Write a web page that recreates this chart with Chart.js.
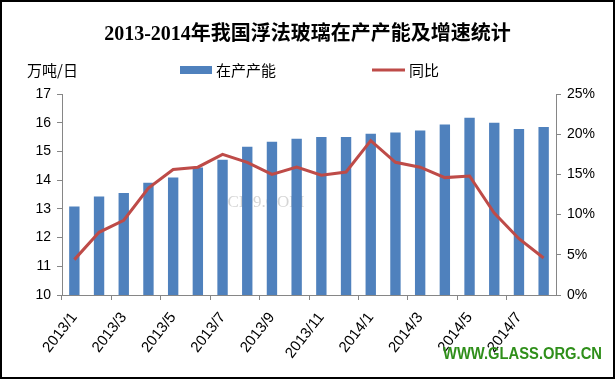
<!DOCTYPE html>
<html>
<head>
<meta charset="utf-8">
<script src="https://cdn.jsdelivr.net/npm/chart.js@4.4.1/dist/chart.umd.min.js"></script>
<style>
  html, body { margin: 0; padding: 0; background: #fff; }
  #wrap { width: 615px; height: 379px; position: relative; }
</style>
</head>
<body>
<div id="wrap"><canvas id="chart" width="615" height="379"></canvas></div>
<script>
// months shown on the x axis
const months = ['2013/1', '2013/2', '2013/3', '2013/4', '2013/5', '2013/6', '2013/7', '2013/8',
    '2013/9', '2013/10', '2013/11', '2013/12', '2014/1', '2014/2', '2014/3', '2014/4',
    '2014/5', '2014/6', '2014/7', '2014/8'];

// 在产产能, 万吨/日
const capacity = [13.08, 13.43, 13.55, 13.91, 14.09, 14.44, 14.71, 15.16, 15.34, 15.44,
    15.5, 15.5, 15.62, 15.66, 15.73, 15.94, 16.17, 16.0, 15.78, 15.85];

// 同比, percent
const yoy = [4.4, 7.8, 9.3, 13.3, 15.6, 15.9, 17.5, 16.5, 15.0, 15.9,
    14.9, 15.3, 19.2, 16.5, 15.9, 14.6, 14.8, 10.2, 7.0, 4.6];

const leftTicks = [10, 11, 12, 13, 14, 15, 16, 17];
const rightTicks = [0, 5, 10, 15, 20, 25];

const axisGray = '#868686';
const tickFont = { family: '"Liberation Sans", Arial, sans-serif', size: 14 };
const cjkFont = '"Noto Sans CJK SC", sans-serif';

// frame, unit label, legend and watermarks
const decorPlugin = {
    id: 'decor',
    beforeDraw(chart) {
        const ctx = chart.ctx;
        ctx.save();
        ctx.fillStyle = '#fff';
        ctx.fillRect(0, 0, chart.width, chart.height);
        // faint watermark behind the plot
        ctx.fillStyle = 'rgba(150,150,150,0.4)';
        ctx.font = '17px "Liberation Serif", serif';
        ctx.textBaseline = 'middle';
        ctx.fillText('SCI99.COM', 218, 203);
        ctx.restore();
    },
    afterDraw(chart) {
        const ctx = chart.ctx;
        const ds = chart.data.datasets;
        ctx.save();
        ctx.textBaseline = 'middle';
        ctx.fillStyle = '#000';
        ctx.font = '15px ' + cjkFont;
        ctx.fillText('万吨/日', 27, 70);

        // legend
        ctx.fillStyle = ds[0].backgroundColor;
        ctx.fillRect(180, 66, 32, 8);
        ctx.fillStyle = '#000';
        ctx.fillText(ds[0].label, 216, 70);
        ctx.strokeStyle = ds[1].borderColor;
        ctx.lineWidth = 3;
        ctx.beginPath();
        ctx.moveTo(372, 70);
        ctx.lineTo(405, 70);
        ctx.stroke();
        ctx.fillText(ds[1].label, 409, 70);

        // site mark
        ctx.fillStyle = '#2f8f1a';
        ctx.font = 'bold 16px "Liberation Sans", Arial, sans-serif';
        ctx.fillText('WWW.GLASS.ORG.CN', 443, 355, 159);

        // outer frame
        ctx.strokeStyle = '#000';
        ctx.lineWidth = 2;
        ctx.strokeRect(1, 1, chart.width - 2, chart.height - 2);
        ctx.restore();
    }
};

new Chart(document.getElementById('chart'), {
    type: 'bar',
    data: {
        labels: months,
        datasets: [
            {
                label: '在产产能',
                data: capacity,
                yAxisID: 'y',
                backgroundColor: '#4f81bd',
                barPercentage: 0.42,
                categoryPercentage: 1,
                order: 1
            },
            {
                type: 'line',
                label: '同比',
                data: yoy,
                yAxisID: 'y1',
                borderColor: '#be4b48',
                borderWidth: 3,
                pointRadius: 0,
                tension: 0,
                order: 0
            }
        ]
    },
    options: {
        responsive: false,
        animation: false,
        layout: { padding: 0 },
        plugins: {
            legend: { display: false },
            tooltip: { enabled: false },
            title: {
                display: true,
                text: '2013-2014年我国浮法玻璃在产产能及增速统计',
                color: '#000',
                font: { family: '"Liberation Serif", ' + cjkFont, size: 20, weight: 'bold', lineHeight: 1.2 },
                padding: { top: 23, bottom: 47 }
            }
        },
        scales: {
            x: {
                offset: true,
                border: { color: axisGray, width: 1 },
                grid: {
                    offset: true,
                    drawOnChartArea: false,
                    tickLength: 5,
                    color: c => (c.index % 2 === 0 ? axisGray : 'rgba(0,0,0,0)')
                },
                ticks: {
                    autoSkip: false,
                    minRotation: 52,
                    maxRotation: 52,
                    color: '#000',
                    font: { family: tickFont.family, size: 15 },
                    padding: 9,
                    callback: (v, i) => (i % 2 === 0 ? months[i] : '')
                },
                afterFit: s => { s.height = 84; }
            },
            y: {
                position: 'left',
                min: 10,
                max: 17,
                border: { color: axisGray, width: 1 },
                grid: { drawOnChartArea: false, tickLength: 5, color: axisGray },
                afterBuildTicks: s => { s.ticks = leftTicks.map(v => ({ value: v })); },
                ticks: { color: '#000', font: tickFont, padding: 6 },
                afterFit: s => { s.width = 62; }
            },
            y1: {
                position: 'right',
                min: 0,
                max: 25,
                border: { color: axisGray, width: 1 },
                grid: { drawOnChartArea: false, tickLength: 5, color: axisGray },
                afterBuildTicks: s => { s.ticks = rightTicks.map(v => ({ value: v })); },
                ticks: { color: '#000', font: tickFont, padding: 6, callback: v => v + '%' },
                afterFit: s => { s.width = 59; }
            }
        }
    },
    plugins: [decorPlugin]
});
</script>
</body>
</html>
